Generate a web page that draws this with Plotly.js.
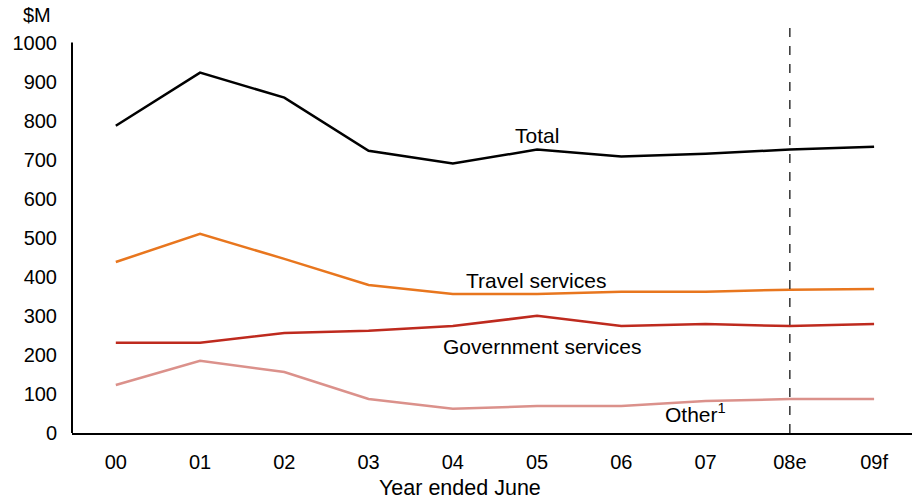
<!DOCTYPE html>
<html>
<head>
<meta charset="utf-8">
<script src="https://cdn.plot.ly/plotly-3.0.1.min.js"></script>
<style>html,body{margin:0;padding:0;background:#fff;}#chart{width:912px;height:500px;}</style>
</head>
<body>
<div id="chart"></div>
<script>
const years = ['00','01','02','03','04','05','06','07','08e','09f'];
const total = [787, 923, 859, 723, 690, 726, 708, 715, 726, 733];
const travel = [438, 510, 446, 379, 356, 356, 362, 362, 367, 369];
const government = [231, 231, 256, 262, 274, 300, 274, 279, 274, 279];
const other = [123, 185, 156, 87, 62, 69, 69, 82, 87, 87];
const yTicks = [0,100,200,300,400,500,600,700,800,900,1000];

const font = 'Liberation Sans, Arial, sans-serif';
function line(y, color, name) {
  return {x: years, y: y, type: 'scatter', mode: 'lines', name: name,
    line: {color: color, width: 2.5}, hoverinfo: 'skip'};
}
const data = [
  line(total, '#000000', 'Total'),
  line(travel, '#E8761E', 'Travel services'),
  line(government, '#BE2A1E', 'Government services'),
  line(other, '#DB918B', 'Other')
];
const layout = {
  width: 912, height: 500,
  margin: {l: 72, r: 0, t: 25, b: 67},
  paper_bgcolor: '#fff', plot_bgcolor: '#fff',
  showlegend: false,
  font: {family: font, size: 20, color: '#000'},
  xaxis: {type: 'category', range: [-0.52, 9.45], showgrid: false, zeroline: false,
    showline: true, linecolor: '#000', linewidth: 2, ticks: '',
    ticklabelstandoff: 10, tickfont: {size: 20}},
  yaxis: {range: [0, 1045], showgrid: false, zeroline: false, showline: false,
    tickvals: yTicks, ticktext: yTicks.map(String), ticks: '',
    ticklabelstandoff: 14, tickfont: {size: 20}},
  shapes: [
    {type: 'line', xref: 'paper', yref: 'y', x0: 0, x1: 0, y0: 0, y1: 1000,
      line: {color: '#000', width: 2}},
    {type: 'line', xref: 'x', yref: 'paper', x0: '08e', x1: '08e', y0: 0, y1: 1,
      line: {color: '#333', width: 1.5, dash: 'dash'}}
  ],
  annotations: [
    {xref: 'paper', yref: 'paper', x: 0.0, y: 1.0, xshift: -35, yshift: 10, text: '$M', showarrow: false,
      xanchor: 'center', yanchor: 'middle', font: {size: 20}},
    {xref: 'paper', yref: 'paper', x: 0.462, y: 0, yshift: -55, text: 'Year ended June', showarrow: false,
      xanchor: 'center', yanchor: 'middle', font: {size: 21.5}},
    {xref: 'x', yref: 'y', x: 5, y: 762, text: 'Total', showarrow: false, font: {size: 21}},
    {xref: 'x', yref: 'y', x: 4.99, y: 390, text: 'Travel services', showarrow: false, font: {size: 21}},
    {xref: 'x', yref: 'y', x: 5.06, y: 221, text: 'Government services', showarrow: false, font: {size: 21}},
    {xref: 'x', yref: 'y', x: 6.88, y: 51, text: 'Other<sup>1</sup>', showarrow: false, font: {size: 21}}
  ]
};
Plotly.newPlot('chart', data, layout, {staticPlot: true, displayModeBar: false});
</script>
</body>
</html>
